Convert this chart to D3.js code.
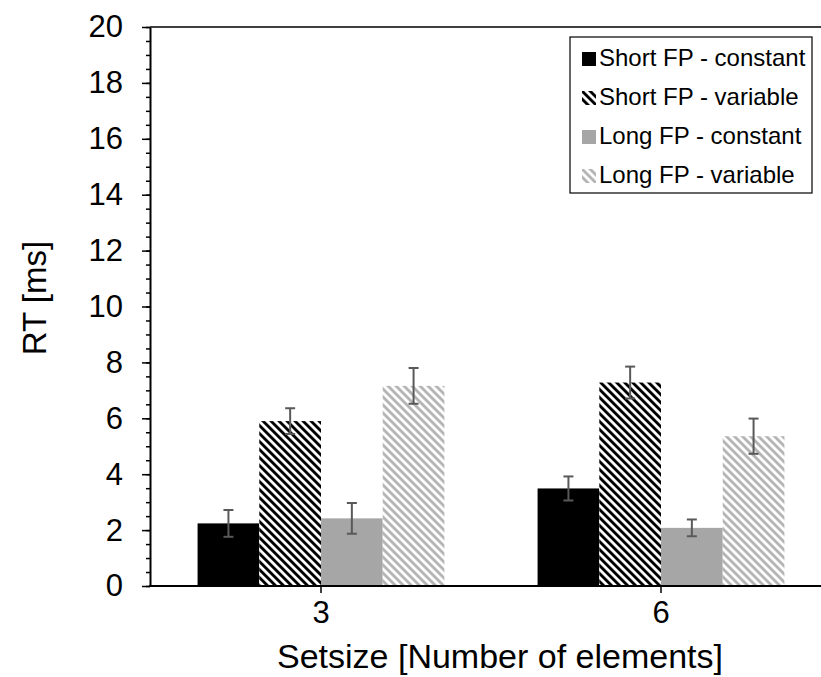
<!DOCTYPE html>
<html>
<head>
<meta charset="utf-8">
<script src="https://cdn.jsdelivr.net/npm/d3@7"></script>
<style>
    body { margin: 0; background: #fff; }
    svg text { font-family: "Liberation Sans", Arial, sans-serif; fill: #000; }
</style>
</head>
<body>
<svg id="chart" width="821" height="677"></svg>
<script>
// data
var setsizes = ["3", "6"];
var seriesNames = ["Short FP - constant", "Short FP - variable", "Long FP - constant", "Long FP - variable"];
var shortConstant = [2.24, 3.49];
var shortVariable = [5.90, 7.28];
var longConstant = [2.42, 2.08];
var longVariable = [7.16, 5.36];
var shortConstantErr = [0.48, 0.43];
var shortVariableErr = [0.46, 0.57];
var longConstantErr = [0.55, 0.30];
var longVariableErr = [0.64, 0.63];
var yTicks = [0, 2, 4, 6, 8, 10, 12, 14, 16, 18, 20];

var values = [shortConstant, shortVariable, longConstant, longVariable];
var errors = [shortConstantErr, shortVariableErr, longConstantErr, longVariableErr];
var fills = ["#000", "url(#hatchDark)", "#a6a6a6", "url(#hatchLight)"];

var svg = d3.select("#chart");
var margin = { left: 150, right: -10, top: 27, bottom: 91 };
var width = 821, height = 677;

// hatch patterns
var defs = svg.append("defs");
function hatch(id, color) {
    var p = defs.append("pattern").attr("id", id)
        .attr("patternUnits", "userSpaceOnUse")
        .attr("width", 5.66).attr("height", 5.66)
        .attr("patternTransform", "rotate(-45)");
    p.append("rect").attr("width", 5.66).attr("height", 5.66).attr("fill", "#fff");
    p.append("rect").attr("width", 2.9).attr("height", 5.66).attr("fill", color);
}
hatch("hatchDark", "#000");
hatch("hatchLight", "#b5b5b5");

var x = d3.scaleBand().domain(setsizes).range([margin.left + 1, width - margin.right]);
var inner = d3.scaleBand().domain(d3.range(4))
    .range([x.bandwidth() * 0.137, x.bandwidth() * 0.863]);
var y = d3.scaleLinear().domain([0, 20]).range([height - margin.bottom, margin.top]);

// rows: one per setsize & series
var rows = [];
setsizes.forEach(function (s, i) {
    values.forEach(function (v, k) {
        rows.push({ set: s, k: k, value: v[i], err: errors[k][i] });
    });
});

svg.append("g").selectAll("rect")
    .data(rows)
    .enter()
    .append("rect")
    .attr("x", function (d) { return x(d.set) + inner(d.k); })
    .attr("width", inner.bandwidth())
    .attr("y", function (d) { return y(d.value); })
    .attr("height", function (d) { return y(0) - y(d.value); })
    .attr("fill", function (d) { return fills[d.k]; });

// error bars
var eb = svg.append("g").attr("stroke", "#595959").attr("stroke-width", 2);
rows.forEach(function (d) {
    var cx = x(d.set) + inner(d.k) + inner.bandwidth() / 2;
    eb.append("line").attr("x1", cx).attr("x2", cx)
        .attr("y1", y(d.value + d.err)).attr("y2", y(d.value - d.err));
    [d.value + d.err, d.value - d.err].forEach(function (v) {
        eb.append("line").attr("x1", cx - 5).attr("x2", cx + 5)
            .attr("y1", y(v)).attr("y2", y(v));
    });
});

// top frame line
svg.append("line")
    .attr("x1", margin.left).attr("x2", width)
    .attr("y1", y(20)).attr("y2", y(20))
    .attr("stroke", "#000").attr("stroke-width", 1.5);

// y axis with minor ticks
var yMinor = svg.append("g").attr("transform", "translate(" + margin.left + ",0)")
    .call(d3.axisLeft(y).tickValues(d3.range(0, 20.01, 0.5)).tickSize(4).tickFormat(""));
yMinor.select(".domain").remove();
yMinor.selectAll("line").attr("stroke-width", 1.5);

var yAxis = svg.append("g").attr("transform", "translate(" + margin.left + ",0)")
    .call(d3.axisLeft(y).tickValues(yTicks).tickSize(8).tickSizeOuter(0).tickPadding(19));
yAxis.select(".domain").attr("stroke-width", 2);
yAxis.selectAll("line").attr("stroke-width", 1.5);
yAxis.selectAll("text").style("font-size", "31px");

// x axis
var xAxis = svg.append("g").attr("transform", "translate(0," + y(0) + ")")
    .call(d3.axisBottom(x).tickSize(7).tickSizeOuter(0).tickPadding(8));
xAxis.select(".domain").attr("stroke-width", 2)
    .attr("d", "M" + (margin.left - 1) + ",0H" + width);
xAxis.selectAll("line").attr("stroke-width", 1.5);
xAxis.selectAll("text").style("font-size", "31px");

// axis titles
svg.append("text")
    .attr("x", 500).attr("y", 668)
    .attr("text-anchor", "middle")
    .style("font-size", "34px")
    .text("Setsize [Number of elements]");

svg.append("text")
    .attr("transform", "translate(46,298) rotate(-90)")
    .attr("text-anchor", "middle")
    .style("font-size", "33px")
    .text("RT [ms]");

// legend
var legend = svg.append("g").attr("transform", "translate(570,37)");
legend.append("rect").attr("width", 242).attr("height", 156)
    .attr("fill", "#fff").attr("stroke", "#000").attr("stroke-width", 1.2);
seriesNames.forEach(function (name, k) {
    var row = legend.append("g").attr("transform", "translate(0," + (29 + k * 39) + ")");
    row.append("rect").attr("x", 12).attr("y", -14).attr("width", 14).attr("height", 14)
        .attr("fill", fills[k]);
    row.append("text").attr("x", 29).attr("y", 0)
        .style("font-size", "24px")
        .text(name);
});
</script>
</body>
</html>
